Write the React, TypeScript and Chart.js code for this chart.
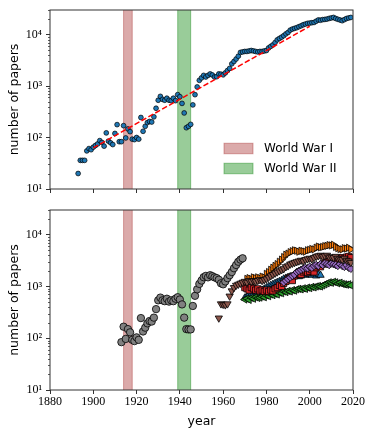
import React, { useEffect, useRef } from 'react';
import { Chart, registerables } from 'chart.js';

Chart.register(...registerables);

// ---------- axes ----------
const xTickValues = [1880, 1900, 1920, 1940, 1960, 1980, 2000, 2020];
const yTickValues = [10, 100, 1000, 10000];
const yTickLabels = ['10¹', '10²', '10³', '10⁴'];
const yMinorTickValues = [
  20, 30, 40, 50, 60, 70, 80, 90,
  200, 300, 400, 500, 600, 700, 800, 900,
  2000, 3000, 4000, 5000, 6000, 7000, 8000, 9000,
  20000, 30000,
];
const X_MIN = 1880;
const X_MAX = 2020;
const Y_MIN = 10;
const Y_MAX = 30000;

// ---------- wars ----------
const warNames = ['World War I', 'World War II'];
const warStartYears = [1914, 1939];
const warEndYears = [1918, 1945];
const warColors = ['rgba(165, 42, 42, 0.4)', 'rgba(0, 128, 0, 0.4)'];

// ---------- top panel: all papers ----------
const allFirstYear = 1893;
const allPapers = [
  20, 36, 36, 36, 55, 61, 58, 65, 70, 75,
  87, 80, 68, 123, 85, 79, 73, 120, 178, 83,
  83, 170, 98, 147, 130, 93, 91, 100, 93, 245,
  132, 165, 195, 205, 200, 252, 370, 530, 630, 550,
  530, 580, 530, 520, 580, 520, 680, 620, 460, 300,
  155, 165, 180, 430, 680, 960, 1290, 1440, 1610, 1500,
  1610, 1720, 1640, 1500, 1520, 1720, 1700, 1650, 1800, 2000,
  2200, 2700, 3000, 3350, 3800, 4500, 4600, 4700, 4700, 4800,
  4900, 4800, 4700, 4600, 4700, 4700, 4800, 4900, 5500, 5900,
  6300, 7000, 7900, 8400, 8900, 9500, 10300, 11000, 12200, 12800,
  13200, 13600, 14200, 14800, 15500, 16000, 16500, 16700, 17000, 17200,
  18200, 19200, 19000, 19500, 19700, 20000, 20600, 21000, 21500, 20500,
  19800, 19200, 18600, 19500, 20500, 21000, 21500,
];
const fitYears = [1900, 2000];
const fitPapers = [63, 14500];

// ---------- bottom panel: per source ----------
const grayFirstYear = 1913;
const grayPapers = [
  84, 167, 97, 150, 130, 93, 88, 104, 93, 245,
  135, 160, 194, 215, 210, 250, 365, 540, 610, 540,
  520, 580, 510, 540, 520, 580, 620, 560, 450, 250,
  150, 148, 148, 420, 660, 880, 1120, 1300, 1510, 1600,
  1500, 1650, 1580, 1500, 1450, 1350, 1150, 1100, 1250, 1450,
  1650, 1900, 2250, 2600, 3000, 3300, 3500,
];
const blueFirstYear = 1970;
const bluePapers = [
  600, 650, 700, 720, 750, 800, 780, 820, 850, 900,
  950, 1000, 1050, 1100, 1150, 1200, 1250, 1300, 1400, 1450,
  1500, 1550, 1500, 1600, 1650, 1550, 1600, 1700, 1650, 1750,
  1700, 1650, 1750, 1600, 1700, 1650,
];
const orangeFirstYear = 1971;
const orangePapers = [
  1400, 1450, 1400, 1500, 1450, 1500, 1450, 1550, 1500,
  1750, 1900, 2100, 2300, 2500, 2700, 3000, 3300, 3700, 4100,
  4300, 4600, 4800, 5000, 4900, 4700, 4900, 4800, 4700, 5000,
  5100, 5300, 5200, 5600, 5900, 5700, 5800, 6000, 6100, 6300,
  6200, 6400, 5800, 5500, 5300, 5200, 5500, 5400, 5600, 5200,
];
const greenFirstYear = 1970;
const greenPapers = [
  560, 580, 550, 600, 580, 620, 600, 610, 640, 620,
  670, 650, 700, 680, 720, 700, 760, 740, 800, 780,
  820, 800, 850, 830, 880, 900, 880, 920, 900, 950,
  930, 980, 960, 1000, 1020, 1000, 1050, 1100, 1150, 1200,
  1180, 1230, 1200, 1150, 1180, 1120, 1100, 1080, 1100, 1050,
];
const redFirstYear = 1970;
const redPapers = [
  950, 900, 850, 950, 900, 850, 900, 820, 850, 800,
  850, 800, 850, 820, 900, 950, 1050, 1000, 1150, 1250,
  1400, 1500, 1300, 1600, 1700, 1800, 1700, 1900, 2000, 1850,
  1950, 2100, 1900, 2300, 2500, 2400, 2700, 2900, 3000, 3100,
  2900, 3200, 3400, 3300, 3500, 3600, 3400, 3700, 3800, 3600,
];
const purpleFirstYear = 1988;
const purplePapers = [
  1200, 1300, 1400, 1500, 1600, 1700, 1900, 2000, 2100, 2200,
  2300, 2250, 2400, 2300, 2500, 2600, 2500, 2700, 2600, 2800,
  2700, 2600, 2800, 2700, 2600, 2500, 2700, 2500, 2400, 2600,
  2300, 2200,
];
const brownFirstYear = 1958;
const brownPapers = [
  245, 460, 450, 440, 460, 650, 820, 950, 1050, 1100,
  1150, 1200, 1250, 1200, 1300, 1250, 1300, 1250, 1300, 1350,
  1300, 1350, 1400, 1500, 1600, 1700, 1800, 1900, 2000, 2100,
  2200, 2400, 2500, 2700, 2800, 2900, 3000, 3100, 3200, 3100,
  3300, 3400, 3500, 3400, 3600, 3800, 3900, 4000, 3800, 3900,
  4000, 3700, 3700, 3600, 3800, 3500, 3400, 3300, 3500, 3200,
  3100, 2900,
];

// ---------- helpers ----------
const AXIS_COLOR = '#333';
const SERIF = '"Liberation Serif", serif';
const SANS = '"DejaVu Sans", sans-serif';

const toPoints = (firstYear: number, values: number[]) =>
  values.map((v, i) => ({ x: firstYear + i, y: v }));

const framePlugin = {
  id: 'frameAndBands',
  beforeDatasetsDraw(chart: any) {
    const { ctx, chartArea, scales } = chart;
    const xs = scales.x;
    ctx.save();
    ctx.beginPath();
    ctx.rect(chartArea.left, chartArea.top, chartArea.right - chartArea.left, chartArea.bottom - chartArea.top);
    ctx.clip();
    warNames.forEach((_, i) => {
      const x1 = xs.getPixelForValue(warStartYears[i]);
      const x2 = xs.getPixelForValue(warEndYears[i]);
      ctx.fillStyle = warColors[i];
      ctx.strokeStyle = warColors[i];
      ctx.lineWidth = 1;
      ctx.fillRect(x1, chartArea.top, x2 - x1, chartArea.bottom - chartArea.top);
      ctx.strokeRect(x1, chartArea.top - 2, x2 - x1, chartArea.bottom - chartArea.top + 4);
    });
    ctx.restore();
  },
  afterDraw(chart: any) {
    const { ctx, chartArea, scales } = chart;
    const ys = scales.y;
    ctx.save();
    ctx.strokeStyle = AXIS_COLOR;
    ctx.lineWidth = 1;
    ctx.strokeRect(chartArea.left, chartArea.top, chartArea.right - chartArea.left, chartArea.bottom - chartArea.top);
    ctx.beginPath();
    yMinorTickValues.forEach((v) => {
      const y = Math.round(ys.getPixelForValue(v)) + 0.5;
      ctx.moveTo(chartArea.left - 2, y);
      ctx.lineTo(chartArea.left, y);
    });
    ctx.lineWidth = 0.8;
    ctx.stroke();
    ctx.restore();
  },
};

const legendPlugin = {
  id: 'warLegend',
  afterDraw(chart: any) {
    const { ctx, chartArea } = chart;
    const patchW = 29;
    const patchH = 10.5;
    const x0 = chartArea.right - 129;
    ctx.save();
    warNames.forEach((name, i) => {
      const cy = chartArea.bottom - 40.5 + i * 20;
      ctx.fillStyle = warColors[i];
      ctx.strokeStyle = warColors[i];
      ctx.lineWidth = 1;
      ctx.fillRect(x0, cy - patchH / 2, patchW, patchH);
      ctx.strokeRect(x0, cy - patchH / 2, patchW, patchH);
      ctx.fillStyle = '#000';
      ctx.font = `12px ${SANS}`;
      ctx.textBaseline = 'middle';
      ctx.textAlign = 'left';
      ctx.fillText(name, x0 + 40, cy + 0.5);
    });
    ctx.restore();
  },
};

function makeScales(showXLabels: boolean, xHeight: number) {
  return {
    x: {
      type: 'linear',
      min: X_MIN,
      max: X_MAX,
      afterBuildTicks: (s: any) => {
        s.ticks = xTickValues.map((v) => ({ value: v }));
      },
      ticks: {
        display: showXLabels,
        autoSkip: false,
        maxRotation: 0,
        padding: 1,
        color: '#000',
        font: { family: SERIF, size: 12 },
        callback: (v: any) => String(v),
      },
      grid: { drawOnChartArea: false, drawTicks: true, tickLength: 4, color: AXIS_COLOR, lineWidth: 1 },
      border: { display: false },
      title: {
        display: showXLabels,
        text: 'year',
        color: '#000',
        font: { family: SANS, size: 12.5 },
        padding: { top: 0, bottom: 5 },
      },
      afterFit: (s: any) => {
        s.height = xHeight;
      },
    },
    y: {
      type: 'logarithmic',
      min: Y_MIN,
      max: Y_MAX,
      afterBuildTicks: (s: any) => {
        s.ticks = yTickValues.map((v) => ({ value: v }));
      },
      ticks: {
        autoSkip: false,
        padding: 4,
        color: '#000',
        font: { family: SERIF, size: 12, lineHeight: 1 },
        callback: (v: any) => {
          const idx = yTickValues.indexOf(Number(v));
          return idx >= 0 ? yTickLabels[idx] : '';
        },
      },
      grid: { drawOnChartArea: false, drawTicks: true, tickLength: 4, color: AXIS_COLOR, lineWidth: 1 },
      border: { display: false },
      title: {
        display: true,
        text: 'number of papers',
        color: '#000',
        font: { family: SANS, size: 12.5 },
        padding: { top: 7, bottom: 0 },
      },
      afterFit: (s: any) => {
        s.width = 50;
      },
    },
  };
}

const markerBase = { borderColor: '#000', borderWidth: 0.8, pointHoverRadius: 4 };

export default function App() {
  const topRef = useRef<HTMLCanvasElement>(null);
  const botRef = useRef<HTMLCanvasElement>(null);

  useEffect(() => {
    const top = new Chart(topRef.current as HTMLCanvasElement, {
      type: 'scatter',
      data: {
        datasets: [
          {
            label: 'all',
            data: toPoints(allFirstYear, allPapers),
            backgroundColor: '#1f77b4',
            borderColor: '#000',
            borderWidth: 0.7,
            pointRadius: 2.4,
            order: 2,
          } as any,
          {
            label: 'fit',
            data: fitYears.map((y, i) => ({ x: y, y: fitPapers[i] })),
            showLine: true,
            borderColor: '#ff0000',
            borderWidth: 1.5,
            borderDash: [5.5, 2.4],
            pointRadius: 0,
            fill: false,
            order: 1,
          } as any,
        ],
      },
      options: {
        responsive: false,
        devicePixelRatio: 1,
        animation: false,
        events: [],
        layout: { padding: { top: 6, right: 21, left: 0, bottom: 0 } },
        plugins: { legend: { display: false }, tooltip: { enabled: false } },
        scales: makeScales(false, 11) as any,
      },
      plugins: [framePlugin, legendPlugin],
    });

    const series = [
      { data: toPoints(grayFirstYear, grayPapers), bg: '#808080', style: 'circle', rot: 0, r: 3.7 },
      { data: toPoints(blueFirstYear, bluePapers), bg: '#1f77b4', style: 'triangle', rot: 0, r: 4.2 },
      { data: toPoints(orangeFirstYear, orangePapers), bg: '#ff7f0e', style: 'triangle', rot: 90, r: 4.2 },
      { data: toPoints(greenFirstYear, greenPapers), bg: '#2ca02c', style: 'triangle', rot: 270, r: 4.2 },
      { data: toPoints(redFirstYear, redPapers), bg: '#d62728', style: 'rect', rot: 0, r: 4.4 },
      { data: toPoints(purpleFirstYear, purplePapers), bg: '#9467bd', style: 'rectRot', rot: 0, r: 3.8 },
      { data: toPoints(brownFirstYear, brownPapers), bg: '#8c564b', style: 'triangle', rot: 180, r: 4.2 },
    ];

    const bottom = new Chart(botRef.current as HTMLCanvasElement, {
      type: 'scatter',
      data: {
        datasets: series.map((s, i) => ({
          ...markerBase,
          label: 'series' + i,
          data: s.data,
          backgroundColor: s.bg,
          pointStyle: s.style,
          rotation: s.rot,
          pointRadius: s.r,
          order: series.length - i,
        })) as any,
      },
      options: {
        responsive: false,
        devicePixelRatio: 1,
        animation: false,
        events: [],
        layout: { padding: { top: 8, right: 21, left: 0, bottom: 0 } },
        plugins: { legend: { display: false }, tooltip: { enabled: false } },
        scales: makeScales(true, 44) as any,
      },
      plugins: [framePlugin],
    });

    return () => {
      top.destroy();
      bottom.destroy();
    };
  }, []);

  return (
    <div style={{ position: 'absolute', left: 0, top: 0, width: 374, height: 434, background: '#fff' }}>
      <canvas ref={topRef} width={374} height={200} style={{ display: 'block', width: 374, height: 200 }} />
      <canvas ref={botRef} width={374} height={234} style={{ display: 'block', width: 374, height: 234 }} />
    </div>
  );
}
